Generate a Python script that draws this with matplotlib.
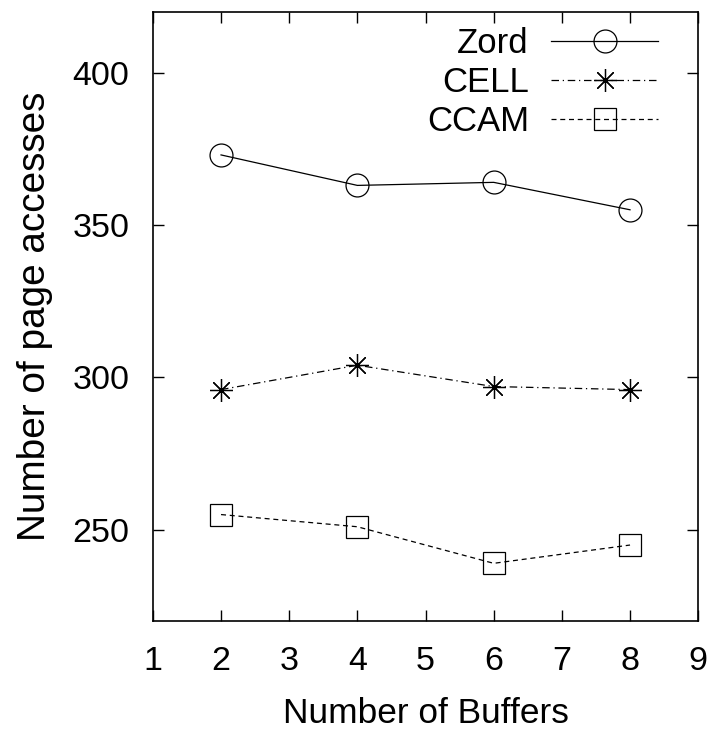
import matplotlib
matplotlib.use('Agg')
import matplotlib.pyplot as plt

plt.rcParams['font.family'] = ['Liberation Sans', 'DejaVu Sans']

buffers = [2, 4, 6, 8]
zord = [373, 363, 364, 355]
cell = [296, 304, 297, 296]
ccam = [255, 251, 239, 245]

fig = plt.figure(figsize=(7.11, 7.30), dpi=100)
ax = fig.add_axes([0.215, 0.149, 0.767, 0.835])

ax.plot(buffers, zord, color='black', linestyle='-', linewidth=0.9,
        marker='o', markersize=16.5, markerfacecolor='none', markeredgewidth=0.9, label='Zord')
ax.plot(buffers, cell, color='black', linestyle=(0, (6, 3, 1, 3)), linewidth=0.9,
        marker=(8, 2, 0), markersize=16.5, markeredgewidth=0.9, label='CELL')
ax.plot(buffers, ccam, color='black', linestyle=(0, (4, 3)), linewidth=0.9,
        marker='s', markersize=16.5, markerfacecolor='none', markeredgewidth=0.9, label='CCAM')

ax.set_xlim(1, 9)
ax.set_ylim(220, 420)
ax.set_xticks(range(1, 10))
ax.set_yticks([250, 300, 350, 400])
ax.tick_params(direction='in', length=8, width=1, labelsize=24.5,
               top=True, right=True)
ax.tick_params(axis='x', pad=17.5)
ax.tick_params(axis='y', pad=17)
for s in ax.spines.values():
    s.set_linewidth(1.2)

ax.set_xlabel('Number of Buffers', fontsize=25.4, labelpad=15)
ax.set_ylabel('Number of page accesses', fontsize=27.9, labelpad=14)

ax.legend(loc='upper right', bbox_to_anchor=(0.927, 0.975), frameon=False,
          markerfirst=False, fontsize=25, handlelength=3.1, handletextpad=0.63,
          labelspacing=0.17, borderpad=0, borderaxespad=0)

fig.savefig('out.png', dpi=100)
